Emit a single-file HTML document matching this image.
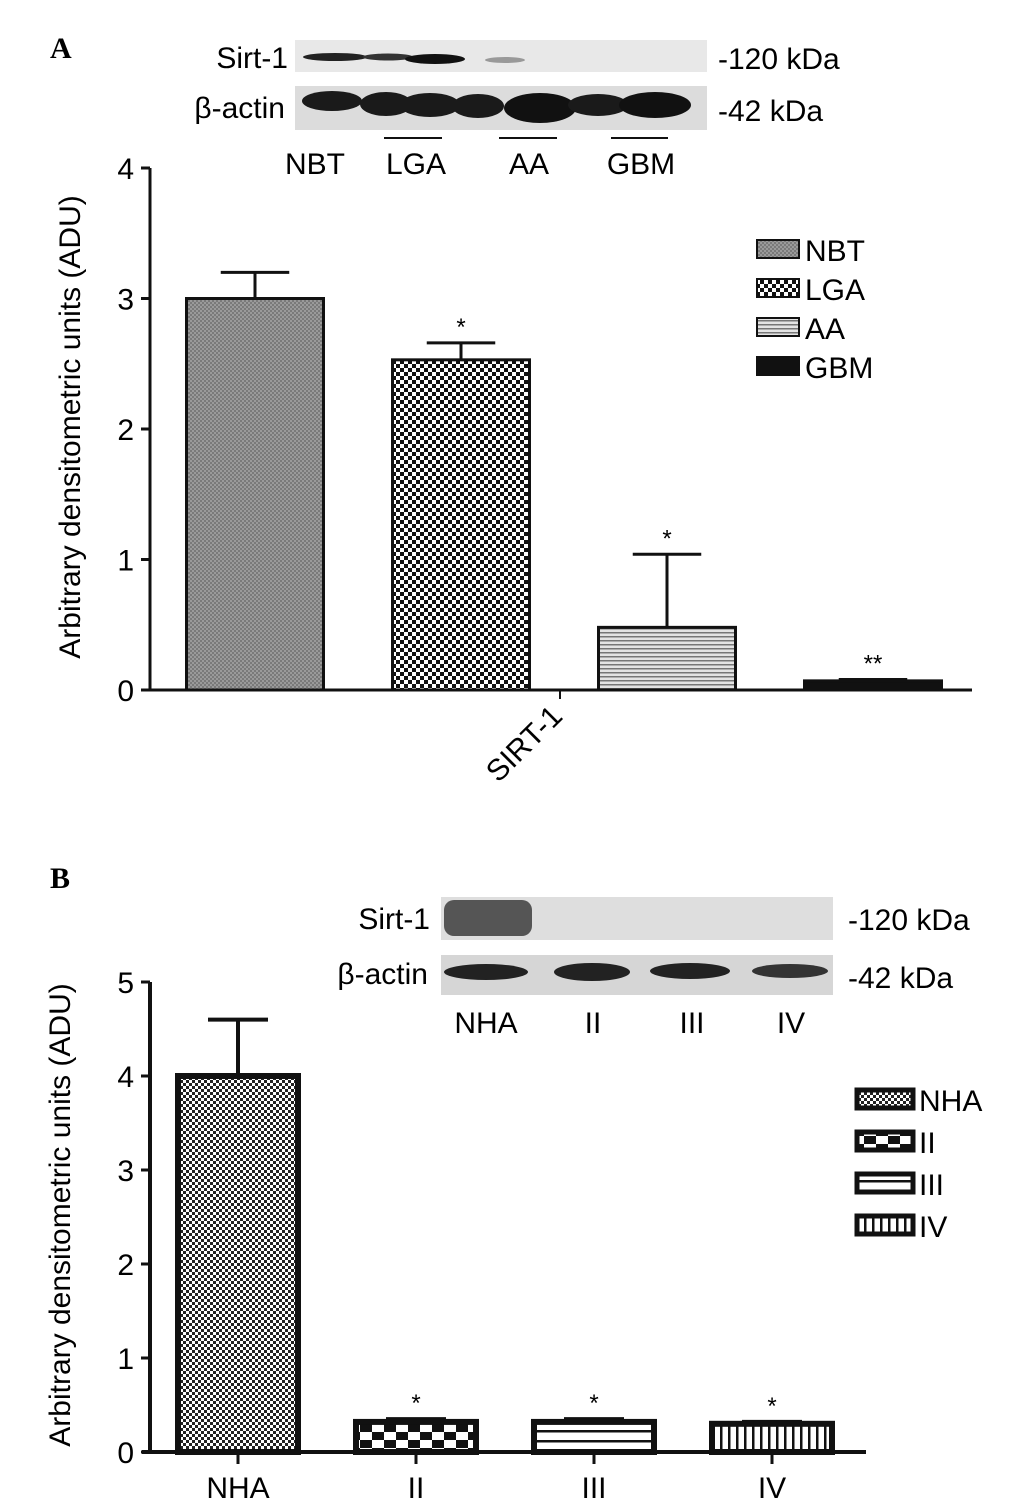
<!DOCTYPE html>
<html><head><meta charset="utf-8"><style>
html,body{margin:0;padding:0;background:#fff;}
svg{display:block;font-family:"Liberation Sans",sans-serif;}
</style></head><body>
<svg id="fig" width="1033" height="1509" viewBox="0 0 1033 1509">
<defs>
<pattern id="pNBT" width="4" height="4" patternUnits="userSpaceOnUse"><rect width="4" height="4" fill="#9a9a9a"/><rect width="2" height="2" fill="#7a7a7a"/><rect x="2" y="2" width="2" height="2" fill="#7a7a7a"/></pattern>
<pattern id="pLGA" width="8" height="8" patternUnits="userSpaceOnUse"><rect width="8" height="8" fill="#fff"/><rect width="4" height="4" fill="#111"/><rect x="4" y="4" width="4" height="4" fill="#111"/></pattern>
<pattern id="pAA" width="4" height="4" patternUnits="userSpaceOnUse"><rect width="4" height="4" fill="#e4e4e4"/><rect width="4" height="1.5" fill="#777"/></pattern>
<pattern id="pGBM" width="4" height="4" patternUnits="userSpaceOnUse"><rect width="4" height="4" fill="#111"/></pattern>
<pattern id="pNHA" width="6" height="6" patternUnits="userSpaceOnUse"><rect width="6" height="6" fill="#fff"/><rect width="3" height="3" fill="#222"/><rect x="3" y="3" width="3" height="3" fill="#222"/></pattern>
<pattern id="pII" width="24" height="16" patternUnits="userSpaceOnUse"><rect width="24" height="16" fill="#fff"/><rect width="12" height="8" fill="#111"/><rect x="12" y="8" width="12" height="8" fill="#111"/></pattern>
<pattern id="pIII" width="10" height="10" patternUnits="userSpaceOnUse"><rect width="10" height="10" fill="#fff"/><rect y="0" width="10" height="2.5" fill="#111"/></pattern>
<pattern id="pIV" width="8" height="10" patternUnits="userSpaceOnUse"><rect width="8" height="10" fill="#fff"/><rect width="2.5" height="10" fill="#111"/></pattern>
</defs>

<!-- Panel A -->
<text x="50" y="58" font-family="Liberation Serif,serif" font-weight="bold" font-size="30">A</text>
<g>
<rect x="295" y="40" width="412" height="32" fill="#e8e8e8"/>
<rect x="295" y="86" width="412" height="44" fill="#dcdcdc"/>
<ellipse cx="335" cy="57" rx="32" ry="4" fill="#222"/>
<ellipse cx="388" cy="57" rx="25" ry="3.5" fill="#333"/>
<ellipse cx="435" cy="59" rx="30" ry="5" fill="#111"/>
<ellipse cx="505" cy="60" rx="20" ry="3" fill="#999"/>
<ellipse cx="332" cy="101" rx="30" ry="10" fill="#1a1a1a"/>
<ellipse cx="386" cy="104" rx="26" ry="12" fill="#1a1a1a"/>
<ellipse cx="430" cy="105" rx="30" ry="12" fill="#1a1a1a"/>
<ellipse cx="478" cy="106" rx="26" ry="12" fill="#1a1a1a"/>
<ellipse cx="540" cy="108" rx="36" ry="15" fill="#111"/>
<ellipse cx="598" cy="105" rx="30" ry="11" fill="#1a1a1a"/>
<ellipse cx="655" cy="105" rx="36" ry="13" fill="#111"/>
<text x="288" y="68" font-size="30" text-anchor="end">Sirt-1</text>
<text x="285" y="118" font-size="30" text-anchor="end">β-actin</text>
<text x="718" y="69" font-size="30">-120 kDa</text>
<text x="718" y="121" font-size="30">-42 kDa</text>
<line x1="384" y1="138" x2="442" y2="138" stroke="#111" stroke-width="2"/>
<line x1="499" y1="138" x2="557" y2="138" stroke="#111" stroke-width="2"/>
<line x1="611" y1="138" x2="668" y2="138" stroke="#111" stroke-width="2"/>
<text x="315" y="174" font-size="30" text-anchor="middle">NBT</text>
<text x="416" y="174" font-size="30" text-anchor="middle">LGA</text>
<text x="529" y="174" font-size="30" text-anchor="middle">AA</text>
<text x="641" y="174" font-size="30" text-anchor="middle">GBM</text>
</g>
<g id="chartA"></g>

<!-- Panel B -->
<text x="50" y="888" font-family="Liberation Serif,serif" font-weight="bold" font-size="30">B</text>
<g>
<rect x="441" y="897" width="392" height="43" fill="#dedede"/>
<rect x="441" y="955" width="392" height="40" fill="#d6d6d6"/>
<rect x="444" y="900" width="88" height="36" rx="10" fill="#555"/>
<ellipse cx="486" cy="972" rx="42" ry="8" fill="#222"/>
<ellipse cx="592" cy="972" rx="38" ry="9" fill="#222"/>
<ellipse cx="690" cy="971" rx="40" ry="8" fill="#222"/>
<ellipse cx="790" cy="971" rx="38" ry="7" fill="#333"/>
<text x="430" y="929" font-size="30" text-anchor="end">Sirt-1</text>
<text x="428" y="984" font-size="30" text-anchor="end">β-actin</text>
<text x="848" y="930" font-size="30">-120 kDa</text>
<text x="848" y="988" font-size="30">-42 kDa</text>
<text x="486" y="1033" font-size="30" text-anchor="middle">NHA</text>
<text x="593" y="1033" font-size="30" text-anchor="middle">II</text>
<text x="692" y="1033" font-size="30" text-anchor="middle">III</text>
<text x="791" y="1033" font-size="30" text-anchor="middle">IV</text>
</g>
<g id="chartB"></g>
</svg>
<script>
const catsA = ["NBT","LGA","AA","GBM"];
const valsA = [3.0, 2.53, 0.48, 0.07];
const errA = [0.2, 0.13, 0.56, 0.01];
const starsA = ["", "*", "*", "**"];
const ticksA = [0,1,2,3,4];
const catsB = ["NHA","II","III","IV"];
const valsB = [4.0, 0.32, 0.32, 0.30];
const errB = [0.6, 0.03, 0.03, 0.02];
const starsB = ["", "*", "*", "*"];
const ticksB = [0,1,2,3,4,5];
const NS="http://www.w3.org/2000/svg";
function mk(p,t,a){const e=document.createElementNS(NS,t);for(const k in a)e.setAttribute(k,a[k]);p.appendChild(e);return e;}

function drawChart(g,o){
  const y=v=>o.y0-(v-0)*(o.y0-o.yTop)/(o.ticks[o.ticks.length-1]);
  const x=i=>o.x0+o.first+i*o.step;
  let ax=mk(g,'line',{x1:o.axX,y1:y(o.ticks[o.ticks.length-1]),x2:o.axX,y2:o.y0,stroke:'#111','stroke-width':o.axW});
  
  
  let bx=mk(g,'line',{x1:o.axX-8,y1:o.y0,x2:o.xEnd,y2:o.y0,stroke:'#111','stroke-width':o.axW});
  
  
  o.ticks.forEach(t=>{
    let l=mk(g,'line',{x1:o.axX-9,y1:y(t),x2:o.axX,y2:y(t),stroke:'#111','stroke-width':3});
    
    
    let tx=mk(g,'text',{x:o.axX-16,y:y(t)+11,'font-size':30,'text-anchor':'end'});tx.textContent=t;
    
    
  });
  o.cats.forEach((c,i)=>{
    const cx=x(i), w=o.bw;
    const top=y(o.vals[i]), et=y(o.vals[i]+o.err[i]);
    let el=mk(g,'line',{x1:cx,y1:top,x2:cx,y2:et,stroke:'#111','stroke-width':o.errW});
    
    
    let ec=mk(g,'line',{x1:cx-w*0.25,y1:et,x2:cx+w*0.25,y2:et,stroke:'#111','stroke-width':o.errW});
    
    
    let r=mk(g,'rect',{x:cx-w/2,y:top,width:w,height:o.y0-top,fill:'url(#p'+c+')',stroke:'#111','stroke-width':o.barW});
    
    
    if(o.stars[i]){let s=mk(g,'text',{x:cx,y:et-8,'font-size':24,'text-anchor':'middle'});s.textContent=o.stars[i];
      
      }
    if(o.xlabels){
      let tk=mk(g,'line',{x1:cx,y1:o.y0,x2:cx,y2:o.y0+12,stroke:'#111','stroke-width':3});
      
      
      let lt=mk(g,'text',{x:cx,y:o.y0+46,'font-size':30,'text-anchor':'middle'});lt.textContent=c;
      
      
    }
    const ly=o.legY+i*o.legStep;
    let lr=mk(g,'rect',{x:o.legX,y:ly-10,width:o.legW,height:18,fill:'url(#p'+c+')',stroke:'#111','stroke-width':o.legStroke});
    
    
    let lt=mk(g,'text',{x:o.legX+o.legW+6,y:ly+11,'font-size':30});lt.textContent=c;
    
    
  });
  let yt=mk(g,'text',{x:0,y:0,'font-size':30,'text-anchor':'middle',transform:`translate(${o.ytX},${o.ytY}) rotate(-90)`});
  yt.textContent='Arbitrary densitometric units (ADU)';
  
  
}
drawChart(document.getElementById('chartA'),{cats:catsA,vals:valsA,err:errA,stars:starsA,ticks:ticksA,
  axX:150,x0:150,y0:690,yTop:168,first:105,step:206,bw:137,xEnd:972,axW:3,errW:3,barW:3,
  legX:757,legY:250,legStep:39,legW:42,legStroke:2,ytX:80,ytY:427});
drawChart(document.getElementById('chartB'),{cats:catsB,vals:valsB,err:errB,stars:starsB,ticks:ticksB,
  axX:150,x0:150,y0:1452,yTop:982,first:88,step:178,bw:120,xEnd:866,xlabels:true,axW:4,errW:4,barW:6,
  legX:857,legY:1100,legStep:42,legW:56,legStroke:5,ytX:70,ytY:1215});
const g=document.getElementById('chartA');
const t=mk(g,'line',{x1:560,y1:690,x2:560,y2:699,stroke:'#111','stroke-width':2});


const s=mk(g,'text',{x:0,y:0,'font-size':30,'text-anchor':'end',transform:'translate(564,718) rotate(-45)'});
s.textContent='SIRT-1';


</script>
</body></html>
